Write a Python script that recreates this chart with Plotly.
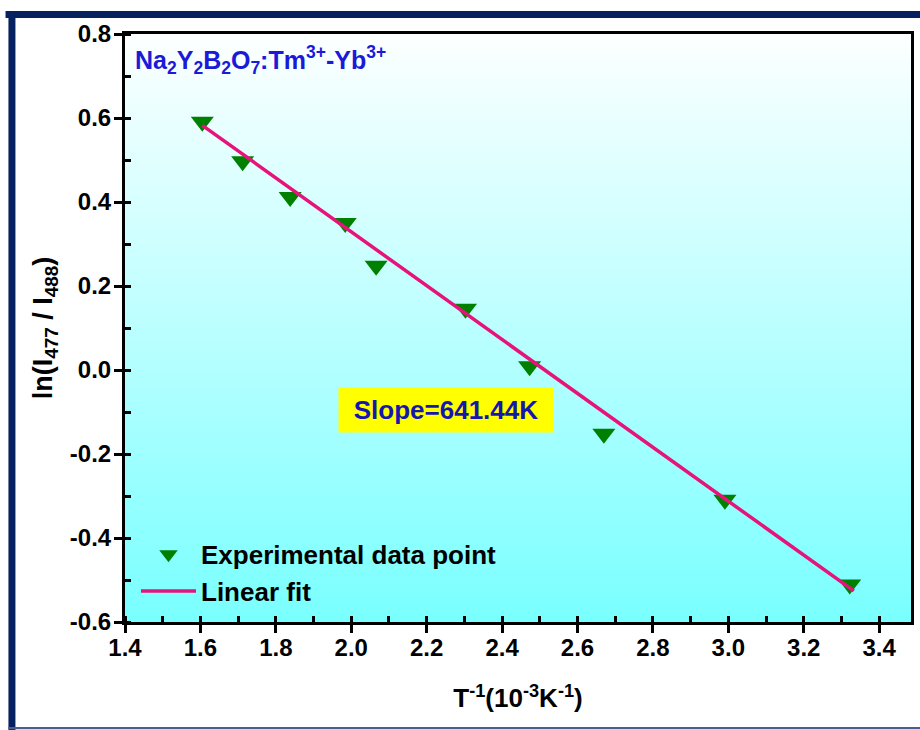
import plotly.graph_objects as go

# Measured ratio of the 477 nm and 488 nm emission bands versus inverse temperature
inv_T = [1.605, 1.712, 1.838, 1.984, 2.066, 2.303, 2.473, 2.670, 2.991, 3.322]
ln_ratio = [0.591, 0.497, 0.412, 0.350, 0.248, 0.146, 0.009, -0.152, -0.309, -0.511]

# Linear fit: ln(I477/I488) = intercept - slope * (1000/T)
fit_slope = 641.44  # K
fit_intercept = 1.612
fit_x = [1.605, 3.333]
fit_y = [fit_intercept - fit_slope / 1000.0 * x for x in fit_x]

# Axis ticks
x_ticks = [1.4, 1.6, 1.8, 2.0, 2.2, 2.4, 2.6, 2.8, 3.0, 3.2, 3.4]
x_tick_labels = ["1.4", "1.6", "1.8", "2.0", "2.2", "2.4", "2.6", "2.8", "3.0", "3.2", "3.4"]
y_ticks = [-0.6, -0.4, -0.2, 0.0, 0.2, 0.4, 0.6, 0.8]
y_tick_labels = ["-0.6", "-0.4", "-0.2", "0.0", "0.2", "0.4", "0.6", "0.8"]

FONT = "Liberation Sans"
NAVY = "#062160"

fig = go.Figure()

fig.add_trace(go.Scatter(
    x=inv_T, y=ln_ratio, mode="markers", name="Experimental data point",
    marker=dict(symbol="triangle-down", size=20, color="#008000"),
    legendgroup="a",
))
fig.add_trace(go.Scatter(
    x=fit_x, y=fit_y, mode="lines", name="Linear fit",
    line=dict(color="#E6147A", width=3.5),
    legendgroup="b",
))

# Vertical white-to-cyan gradient behind the data
shapes = []
n_strips = 90
top_rgb = (252, 255, 255)
bot_rgb = (122, 255, 255)
for i in range(n_strips):
    t = i / (n_strips - 1)
    r = round(bot_rgb[0] + (top_rgb[0] - bot_rgb[0]) * t)
    g = round(bot_rgb[1] + (top_rgb[1] - bot_rgb[1]) * t)
    b = round(bot_rgb[2] + (top_rgb[2] - bot_rgb[2]) * t)
    shapes.append(dict(
        type="rect", xref="x domain", yref="y domain",
        x0=0, x1=1, y0=i / n_strips, y1=(i + 1) / n_strips + 0.002,
        fillcolor=f"rgb({r},{g},{b})", line=dict(width=0), layer="below",
    ))

# Dark frame around the figure
shapes += [
    dict(type="rect", xref="paper", yref="paper", x0=-0.152, x1=1.02,
         y0=1.0272, y1=1.0391, fillcolor=NAVY, line=dict(width=0)),
    dict(type="rect", xref="paper", yref="paper", x0=-0.1483, x1=-0.1394,
         y0=-0.19, y1=1.0391, fillcolor=NAVY, line=dict(width=0)),
    dict(type="rect", xref="paper", yref="paper", x0=-0.1483, x1=1.02,
         y0=-0.1825, y1=-0.1786, fillcolor="#4a5f8f", line=dict(width=0)),
]

axis_common = dict(
    showline=True, linecolor="black", linewidth=3, mirror=True,
    ticks="outside", ticklen=8, tickwidth=2.5, tickcolor="black",
    showgrid=False, zeroline=False,
    tickfont=dict(family=FONT, size=24, color="black", weight="bold"),
)

fig.update_layout(
    width=920, height=730,
    margin=dict(l=125, r=6, t=34, b=108),
    paper_bgcolor="white", plot_bgcolor="white",
    shapes=shapes,
    xaxis=dict(
        range=[1.4, 3.4845], tickvals=x_ticks, ticktext=x_tick_labels,
        ticklabelstandoff=-6,
        minor=dict(dtick=0.1, tick0=1.4, ticks="inside", ticklen=6, tickwidth=2.5,
                   tickcolor="black"),
        title=dict(text="T<sup>-1</sup>(10<sup>-3</sup>K<sup>-1</sup>)", standoff=30,
                   font=dict(family=FONT, size=26, color="black", weight="bold")),
        **axis_common,
    ),
    yaxis=dict(
        range=[-0.6, 0.8], tickvals=y_ticks, ticktext=y_tick_labels,
        ticklabelstandoff=-2,
        minor=dict(dtick=0.1, tick0=-0.6, ticks="inside", ticklen=6, tickwidth=2.5,
                   tickcolor="black"),
        title=dict(text="ln(I<sub>477</sub> / I<sub>488</sub>)", standoff=10,
                   font=dict(family=FONT, size=27, color="black", weight="bold")),
        **axis_common,
    ),
    legend=dict(
        x=0.014, y=0.155, xanchor="left", yanchor="top",
        bgcolor="rgba(0,0,0,0)", borderwidth=0, itemwidth=55,
        tracegroupgap=0,
        font=dict(family=FONT, size=26, color="black", weight="bold"),
    ),
    annotations=[
        dict(
            xref="paper", yref="paper", x=0.010, y=0.956, xanchor="left", yanchor="middle",
            text="Na<sub>2</sub>Y<sub>2</sub>B<sub>2</sub>O<sub>7</sub>:Tm<sup>3+</sup>-Yb<sup>3+</sup>",
            showarrow=False,
            font=dict(family=FONT, size=25, color="#1a1ad8", weight="bold"),
        ),
        dict(
            xref="x", yref="y", x=2.251, y=-0.095, xanchor="center", yanchor="middle",
            text=f"Slope={fit_slope:.2f}K", showarrow=False,
            bgcolor="#FFFF00", width=210, height=40, borderpad=2,
            font=dict(family=FONT, size=26, color="#1515b0", weight="bold"),
        ),
    ],
)

fig.write_html("out.html")
